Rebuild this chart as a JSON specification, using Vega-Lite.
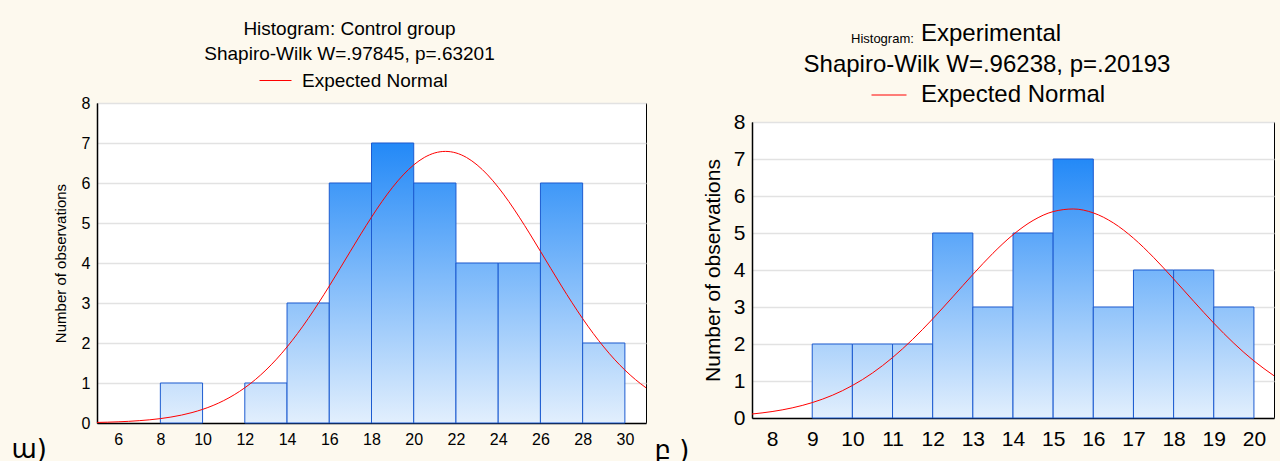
{
  "$schema": "https://vega.github.io/schema/vega-lite/v6.json",
  "background": "#FDF9EE",
  "padding": {"left": 10, "top": 20, "right": 5, "bottom": 5},
  "config": {
    "font": "Liberation Sans",
    "view": {"stroke": "#000000", "strokeWidth": 1, "fill": "#FFFFFF"},
    "axis": {"domainColor": "#000000", "domainWidth": 1.5, "labelColor": "#000000", "titleColor": "#000000", "titleFontWeight": "normal", "ticks": false, "gridColor": "#E2E2E2", "gridWidth": 1.5, "labelFont": "Liberation Sans", "titleFont": "Liberation Sans", "labelOverlap": false},
    "title": {"fontWeight": "normal", "color": "#000000", "font": "Liberation Sans"},
    "legend": {"labelColor": "#000000", "labelFont": "Liberation Sans", "labelLimit": 0}
  },
  "datasets": {
    "control": [
      {"bin_start": 8, "bin_end": 10, "count": 1},
      {"bin_start": 12, "bin_end": 14, "count": 1},
      {"bin_start": 14, "bin_end": 16, "count": 3},
      {"bin_start": 16, "bin_end": 18, "count": 6},
      {"bin_start": 18, "bin_end": 20, "count": 7},
      {"bin_start": 20, "bin_end": 22, "count": 6},
      {"bin_start": 22, "bin_end": 24, "count": 4},
      {"bin_start": 24, "bin_end": 26, "count": 4},
      {"bin_start": 26, "bin_end": 28, "count": 6},
      {"bin_start": 28, "bin_end": 30, "count": 2}
    ],
    "controlCurve": [
      {"x": 5, "y": 0.0143}, {"x": 5.5, "y": 0.0207}, {"x": 6, "y": 0.0295}, {"x": 6.5, "y": 0.0417},
      {"x": 7, "y": 0.0583}, {"x": 7.5, "y": 0.0804}, {"x": 8, "y": 0.1097}, {"x": 8.5, "y": 0.1481},
      {"x": 9, "y": 0.1976}, {"x": 9.5, "y": 0.2609}, {"x": 10, "y": 0.3404}, {"x": 10.5, "y": 0.4389},
      {"x": 11, "y": 0.56}, {"x": 11.5, "y": 0.7063}, {"x": 12, "y": 0.8806}, {"x": 12.5, "y": 1.0857},
      {"x": 13, "y": 1.3236}, {"x": 13.5, "y": 1.5952}, {"x": 14, "y": 1.9012}, {"x": 14.5, "y": 2.24},
      {"x": 15, "y": 2.6094}, {"x": 15.5, "y": 3.006}, {"x": 16, "y": 3.4235}, {"x": 16.5, "y": 3.856},
      {"x": 17, "y": 4.2933}, {"x": 17.5, "y": 4.7272}, {"x": 18, "y": 5.1455}, {"x": 18.5, "y": 5.5386},
      {"x": 19, "y": 5.8944}, {"x": 19.5, "y": 6.202}, {"x": 20, "y": 6.4525}, {"x": 20.5, "y": 6.6379},
      {"x": 21, "y": 6.752}, {"x": 21.5, "y": 6.79}, {"x": 22, "y": 6.752}, {"x": 22.5, "y": 6.6379},
      {"x": 23, "y": 6.4525}, {"x": 23.5, "y": 6.202}, {"x": 24, "y": 5.8944}, {"x": 24.5, "y": 5.5386},
      {"x": 25, "y": 5.1455}, {"x": 25.5, "y": 4.7272}, {"x": 26, "y": 4.2933}, {"x": 26.5, "y": 3.856},
      {"x": 27, "y": 3.4235}, {"x": 27.5, "y": 3.006}, {"x": 28, "y": 2.6094}, {"x": 28.5, "y": 2.24},
      {"x": 29, "y": 1.9012}, {"x": 29.5, "y": 1.5952}, {"x": 30, "y": 1.3236}, {"x": 30.5, "y": 1.0857},
      {"x": 31, "y": 0.8806}
    ],
    "experimental": [
      {"bin_start": 9, "bin_end": 10, "count": 2},
      {"bin_start": 10, "bin_end": 11, "count": 2},
      {"bin_start": 11, "bin_end": 12, "count": 2},
      {"bin_start": 12, "bin_end": 13, "count": 5},
      {"bin_start": 13, "bin_end": 14, "count": 3},
      {"bin_start": 14, "bin_end": 15, "count": 5},
      {"bin_start": 15, "bin_end": 16, "count": 7},
      {"bin_start": 16, "bin_end": 17, "count": 3},
      {"bin_start": 17, "bin_end": 18, "count": 4},
      {"bin_start": 18, "bin_end": 19, "count": 4},
      {"bin_start": 19, "bin_end": 20, "count": 3}
    ],
    "experimentalCurve": [
      {"x": 7.5, "y": 0.1074}, {"x": 8, "y": 0.1741}, {"x": 8.5, "y": 0.2736}, {"x": 9, "y": 0.4163},
      {"x": 9.5, "y": 0.6136}, {"x": 10, "y": 0.878}, {"x": 10.5, "y": 1.2159}, {"x": 11, "y": 1.6329},
      {"x": 11.5, "y": 2.1244}, {"x": 12, "y": 2.6792}, {"x": 12.5, "y": 3.2742}, {"x": 13, "y": 3.8782},
      {"x": 13.5, "y": 4.4516}, {"x": 14, "y": 4.9522}, {"x": 14.5, "y": 5.3393}, {"x": 15, "y": 5.5788},
      {"x": 15.5, "y": 5.6491}, {"x": 16, "y": 5.5438}, {"x": 16.5, "y": 5.2726}, {"x": 17, "y": 4.8601},
      {"x": 17.5, "y": 4.3415}, {"x": 18, "y": 3.7584}, {"x": 18.5, "y": 3.1533}, {"x": 19, "y": 2.564},
      {"x": 19.5, "y": 2.0204}, {"x": 20, "y": 1.543}, {"x": 20.5, "y": 1.1419}
    ]
  },
  "spacing": 6,
  "resolve": {"scale": {"stroke": "independent"}},
  "hconcat": [
    {
      "resolve": {"scale": {"stroke": "independent"}},
      "spacing": 0,
      "vconcat": [
        {
          "width": 549,
          "height": 1,
          "view": {"stroke": null, "fill": null},
          "title": {"text": ["Histogram: Control group", "Shapiro-Wilk W=.97845, p=.63201"], "fontSize": 19, "lineHeight": 25, "anchor": "middle", "frame": "group", "dx": -22, "offset": 0},
          "data": {"values": []},
          "mark": {"type": "line"},
          "encoding": {
            "stroke": {"datum": "Expected Normal", "type": "nominal", "scale": {"range": ["#FF0000"]},
              "legend": {"orient": "none", "legendX": 162, "legendY": -29, "title": null, "symbolType": "stroke", "symbolSize": 1024, "symbolStrokeWidth": 1, "symbolStrokeColor": "#FF0000", "labelFontSize": 19, "labelOffset": 10, "padding": 0,
                "encode": {"symbols": {"update": {"stroke": {"value": "#FF0000"}, "strokeWidth": {"value": 1}, "fill": {"value": "transparent"}}}}}}
          }
        },
        {
          "width": 549,
          "height": 320,
          "layer": [
            {
              "data": {"name": "control"},
              "mark": {"type": "rect", "stroke": "#1C5BD0", "strokeWidth": 1},
              "encoding": {
                "x": {"field": "bin_start", "type": "quantitative", "scale": {"domain": [5, 31], "nice": false, "zero": false},
                  "axis": {"values": [6, 8, 10, 12, 14, 16, 18, 20, 22, 24, 26, 28, 30], "tickCount": 20, "format": "d", "grid": false, "labelFontSize": 16, "labelPadding": 8, "labelFlush": false,
                    "title": "ա)", "titleFont": "DejaVu Sans", "titleFontSize": 26, "titleX": -86, "titleY": 34, "titleAlign": "left", "titleBaseline": "alphabetic"}},
                "x2": {"field": "bin_end"},
                "y": {"field": "count", "type": "quantitative", "scale": {"domain": [0, 8], "nice": false},
                  "axis": {"values": [0, 1, 2, 3, 4, 5, 6, 7, 8], "tickCount": 12, "format": "d", "grid": true, "labelFontSize": 16, "labelPadding": 7, "title": "Number of observations", "titleFontSize": 15, "titlePadding": 13}},
                "y2": {"datum": 0},
                "fill": {
                  "condition": [
                    {"test": "datum.count == 7", "value": {"gradient": "linear", "x1": 0, "y1": 1, "x2": 0, "y2": 0, "stops": [{"offset": 0, "color": "#E2EFFD"}, {"offset": 1, "color": "#2389F7"}]}},
                    {"test": "datum.count == 6", "value": {"gradient": "linear", "x1": 0, "y1": 1, "x2": 0, "y2": 0, "stops": [{"offset": 0, "color": "#E2EFFD"}, {"offset": 1, "color": "#3F98F8"}]}},
                    {"test": "datum.count == 5", "value": {"gradient": "linear", "x1": 0, "y1": 1, "x2": 0, "y2": 0, "stops": [{"offset": 0, "color": "#E2EFFD"}, {"offset": 1, "color": "#5AA6F9"}]}},
                    {"test": "datum.count == 4", "value": {"gradient": "linear", "x1": 0, "y1": 1, "x2": 0, "y2": 0, "stops": [{"offset": 0, "color": "#E2EFFD"}, {"offset": 1, "color": "#75B5FA"}]}},
                    {"test": "datum.count == 3", "value": {"gradient": "linear", "x1": 0, "y1": 1, "x2": 0, "y2": 0, "stops": [{"offset": 0, "color": "#E2EFFD"}, {"offset": 1, "color": "#90C3FA"}]}},
                    {"test": "datum.count == 2", "value": {"gradient": "linear", "x1": 0, "y1": 1, "x2": 0, "y2": 0, "stops": [{"offset": 0, "color": "#E2EFFD"}, {"offset": 1, "color": "#ACD2FB"}]}}
                  ],
                  "value": {"gradient": "linear", "x1": 0, "y1": 1, "x2": 0, "y2": 0, "stops": [{"offset": 0, "color": "#E2EFFD"}, {"offset": 1, "color": "#C7E0FC"}]}
                }
              }
            },
            {
              "data": {"name": "controlCurve"},
              "mark": {"type": "line", "strokeWidth": 1, "interpolate": "monotone", "clip": true, "stroke": "#FF0000"},
              "encoding": {
                "x": {"field": "x", "type": "quantitative",
                  "axis": {"values": [6, 8, 10, 12, 14, 16, 18, 20, 22, 24, 26, 28, 30], "tickCount": 20, "format": "d", "grid": false, "labelFontSize": 16, "labelPadding": 8, "labelFlush": false,
                    "title": "ա)", "titleFont": "DejaVu Sans", "titleFontSize": 26, "titleX": -86, "titleY": 34, "titleAlign": "left", "titleBaseline": "alphabetic"}},
                "y": {"field": "y", "type": "quantitative",
                  "axis": {"values": [0, 1, 2, 3, 4, 5, 6, 7, 8], "tickCount": 12, "format": "d", "grid": true, "labelFontSize": 16, "labelPadding": 7, "title": "Number of observations", "titleFontSize": 15, "titlePadding": 13}}
              }
            }
          ]
        }
      ]
    },
    {
      "title": {"text": "Histogram:", "fontSize": 13, "anchor": "start", "frame": "group", "dx": 99, "dy": 24, "offset": 0},
      "resolve": {"scale": {"stroke": "independent"}},
      "vconcat": [
        {
          "title": {"text": "Experimental", "fontSize": 24, "anchor": "start", "frame": "group", "dx": 169, "offset": 7},
          "resolve": {"scale": {"stroke": "independent"}},
          "spacing": 3,
          "vconcat": [
            {
              "width": 522,
              "height": 1,
              "view": {"stroke": null, "fill": null},
              "title": {"text": "Shapiro-Wilk W=.96238, p=.20193", "fontSize": 24, "anchor": "middle", "frame": "group", "dx": -26, "offset": 0},
              "data": {"values": []},
              "mark": {"type": "line"},
              "encoding": {
                "stroke": {"datum": "Expected Normal", "type": "nominal", "scale": {"range": ["#FF0000"]},
                  "legend": {"orient": "none", "legendX": 119, "legendY": -16, "title": null, "symbolType": "stroke", "symbolSize": 1225, "symbolStrokeWidth": 1, "symbolStrokeColor": "#FF0000", "labelFontSize": 24, "labelOffset": 14, "padding": 0,
                    "encode": {"symbols": {"update": {"stroke": {"value": "#FF0000"}, "strokeWidth": {"value": 1}, "fill": {"value": "transparent"}}}}}}
              }
            },
            {
              "width": 522,
              "height": 296,
              "layer": [
                {
                  "data": {"name": "experimental"},
                  "mark": {"type": "rect", "stroke": "#1C5BD0", "strokeWidth": 1},
                  "encoding": {
                    "x": {"field": "bin_start", "type": "quantitative", "scale": {"domain": [7.5, 20.5], "nice": false, "zero": false},
                      "axis": {"values": [8, 9, 10, 11, 12, 13, 14, 15, 16, 17, 18, 19, 20], "tickCount": 20, "format": "d", "grid": false, "labelFontSize": 21, "labelPadding": 10, "labelFlush": false,
                        "title": "բ )", "titleFont": "DejaVu Sans", "titleFontSize": 26, "titleX": -98, "titleY": 40, "titleAlign": "left", "titleBaseline": "alphabetic"}},
                    "x2": {"field": "bin_end"},
                    "y": {"field": "count", "type": "quantitative", "scale": {"domain": [0, 8], "nice": false},
                      "axis": {"values": [0, 1, 2, 3, 4, 5, 6, 7, 8], "tickCount": 12, "format": "d", "grid": true, "labelFontSize": 21, "labelPadding": 7, "title": "Number of observations", "titleFontSize": 21, "titlePadding": 10}},
                    "y2": {"datum": 0},
                    "fill": {
                      "condition": [
                        {"test": "datum.count == 7", "value": {"gradient": "linear", "x1": 0, "y1": 1, "x2": 0, "y2": 0, "stops": [{"offset": 0, "color": "#E2EFFD"}, {"offset": 1, "color": "#2389F7"}]}},
                        {"test": "datum.count == 6", "value": {"gradient": "linear", "x1": 0, "y1": 1, "x2": 0, "y2": 0, "stops": [{"offset": 0, "color": "#E2EFFD"}, {"offset": 1, "color": "#3F98F8"}]}},
                        {"test": "datum.count == 5", "value": {"gradient": "linear", "x1": 0, "y1": 1, "x2": 0, "y2": 0, "stops": [{"offset": 0, "color": "#E2EFFD"}, {"offset": 1, "color": "#5AA6F9"}]}},
                        {"test": "datum.count == 4", "value": {"gradient": "linear", "x1": 0, "y1": 1, "x2": 0, "y2": 0, "stops": [{"offset": 0, "color": "#E2EFFD"}, {"offset": 1, "color": "#75B5FA"}]}},
                        {"test": "datum.count == 3", "value": {"gradient": "linear", "x1": 0, "y1": 1, "x2": 0, "y2": 0, "stops": [{"offset": 0, "color": "#E2EFFD"}, {"offset": 1, "color": "#90C3FA"}]}},
                        {"test": "datum.count == 2", "value": {"gradient": "linear", "x1": 0, "y1": 1, "x2": 0, "y2": 0, "stops": [{"offset": 0, "color": "#E2EFFD"}, {"offset": 1, "color": "#ACD2FB"}]}}
                      ],
                      "value": {"gradient": "linear", "x1": 0, "y1": 1, "x2": 0, "y2": 0, "stops": [{"offset": 0, "color": "#E2EFFD"}, {"offset": 1, "color": "#C7E0FC"}]}
                    }
                  }
                },
                {
                  "data": {"name": "experimentalCurve"},
                  "mark": {"type": "line", "strokeWidth": 1, "interpolate": "monotone", "clip": true, "stroke": "#FF0000"},
                  "encoding": {
                    "x": {"field": "x", "type": "quantitative",
                      "axis": {"values": [8, 9, 10, 11, 12, 13, 14, 15, 16, 17, 18, 19, 20], "tickCount": 20, "format": "d", "grid": false, "labelFontSize": 21, "labelPadding": 10, "labelFlush": false,
                        "title": "բ )", "titleFont": "DejaVu Sans", "titleFontSize": 26, "titleX": -98, "titleY": 40, "titleAlign": "left", "titleBaseline": "alphabetic"}},
                    "y": {"field": "y", "type": "quantitative",
                      "axis": {"values": [0, 1, 2, 3, 4, 5, 6, 7, 8], "tickCount": 12, "format": "d", "grid": true, "labelFontSize": 21, "labelPadding": 7, "title": "Number of observations", "titleFontSize": 21, "titlePadding": 10}}
                  }
                }
              ]
            }
          ]
        }
      ]
    }
  ]
}
